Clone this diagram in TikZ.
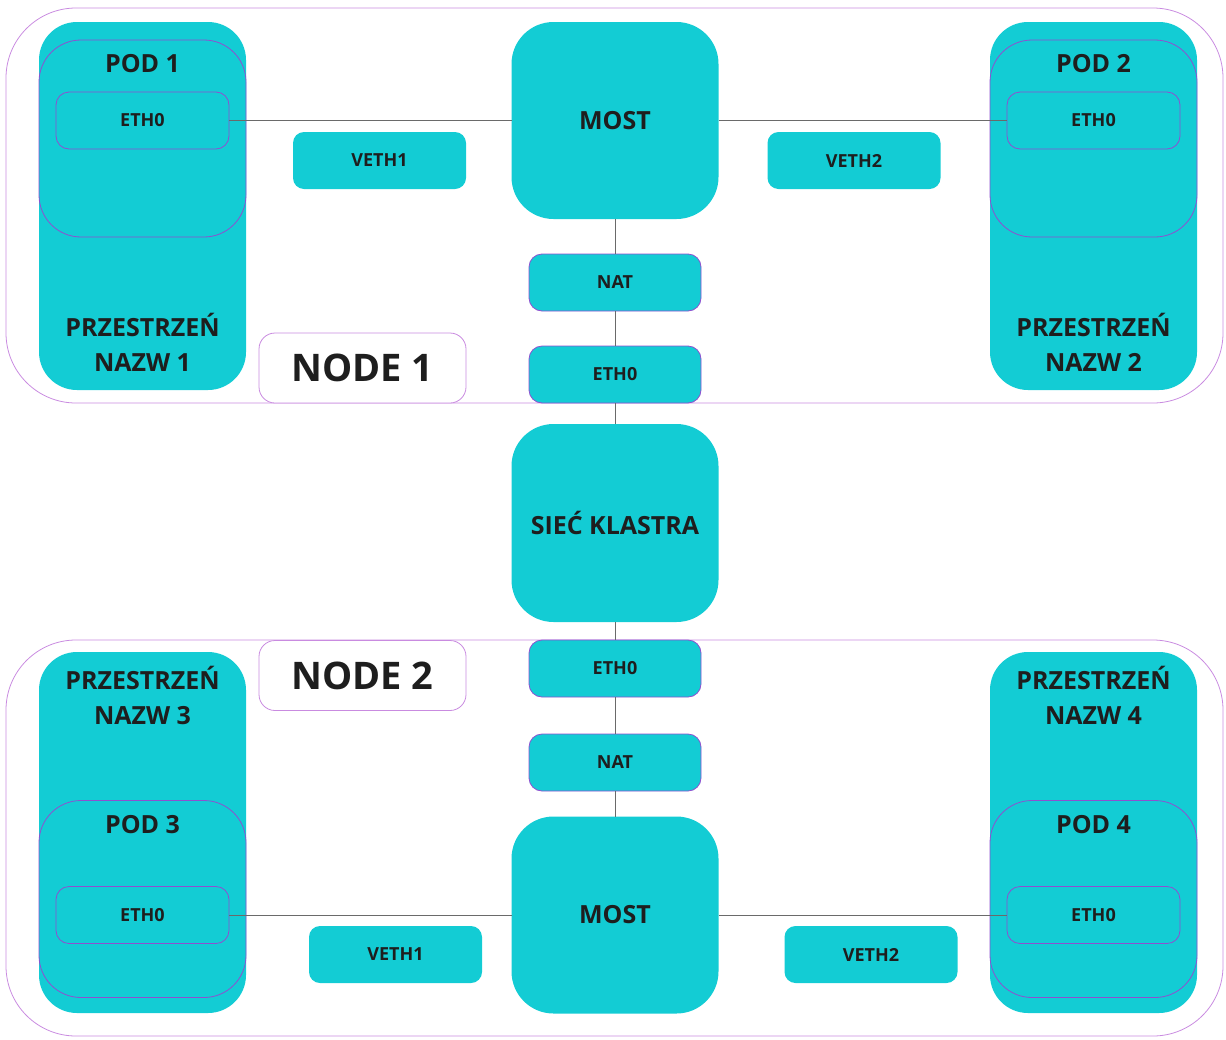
\documentclass[tikz,border=0pt]{standalone}
\usepackage{fontspec}
\setmainfont{Open Sans}
\usepackage{tikz}
\usetikzlibrary{calc}
\definecolor{turkus}{HTML}{13CCD4}
\definecolor{fiolet}{HTML}{8F4FD0}
\definecolor{jasnyfiolet}{HTML}{C98BE0}
\definecolor{tekst}{HTML}{1E1E1E}
\definecolor{linia}{HTML}{6A6A6A}

\begin{document}
\begin{tikzpicture}[x=1pt,y=-1pt,
	box/.style={fill=turkus, inner sep=0pt, outer sep=0pt, text=tekst},
	ramka/.style={draw=fiolet, line width=0.8pt},
	duzy/.style={box, minimum width=207pt, minimum height=197pt, rounded corners=42pt, font=\bfseries\fontsize{25}{30}\selectfont},
	maly/.style={box, minimum width=173pt, minimum height=57pt, rounded corners=13pt, font=\bfseries\fontsize{18}{22}\selectfont},
	przestrzen/.style={box, minimum width=207pt, rounded corners=38pt},
	pod/.style={box, ramka, minimum width=207pt, minimum height=197pt, rounded corners=42pt},
	napis/.style={inner sep=0pt, text=tekst, align=center, font=\bfseries\fontsize{25}{35}\selectfont},
	etykieta/.style={fill=white, draw=jasnyfiolet, line width=0.8pt, minimum width=207pt, minimum height=70pt, rounded corners=16pt, text=tekst, font=\bfseries\fontsize{38}{44}\selectfont},
	polaczenie/.style={draw=linia, line width=0.8pt}
	]
	
	\useasboundingbox (0,0) rectangle (1226,1039);
	
	% node 1
	\draw[jasnyfiolet, line width=0.8pt, rounded corners=70pt] (6,8) rectangle (1223,403);
	
	\node[przestrzen, minimum height=368pt] (NS1) at (142.5,206) {};
	\node[napis] (T1) at (142.5,342.5) {PRZESTRZEŃ\\NAZW 1};
	\node[pod] (P1) at (142.5,138.5) {};
	\node[napis] at (142.5,64) {POD 1};
	\node[maly, ramka] (E1) at (142.5,120.5) {ETH0};
	
	\node[przestrzen, minimum height=368pt] (NS2) at (1093.5,206) {};
	\node[napis] (T2) at (1093.5,342.5) {PRZESTRZEŃ\\NAZW 2};
	\node[pod] (P2) at (1093.5,138.5) {};
	\node[napis] at (1093.5,64) {POD 2};
	\node[maly, ramka] (E2) at (1093.5,120.5) {ETH0};
	
	\node[maly, rounded corners=11pt] (V1) at (379.5,160.5) {VETH1};
	\node[maly, rounded corners=11pt] (V2) at (854,160.5) {VETH2};
	
	\node[duzy] (M1) at (615,120.5) {MOST};
	\node[maly, ramka, minimum width=172pt] (NAT1) at (615,282.5) {NAT};
	\node[maly, ramka, minimum width=172pt] (ETH1) at (615,374.5) {ETH0};
	\node[etykieta] (L1) at (362.5,368) {NODE 1};
	
	% siec
	\node[duzy, minimum height=198pt] (KL) at (615,523) {SIEĆ KLASTRA};
	
	% node 2
	\draw[jasnyfiolet, line width=0.8pt, rounded corners=70pt] (6,640) rectangle (1223,1036);
	
	\node[przestrzen, minimum height=361pt] (NS3) at (142.5,832.5) {};
	\node[napis] (T3) at (142.5,695.5) {PRZESTRZEŃ\\NAZW 3};
	\node[pod] (P3) at (142.5,899) {};
	\node[napis] at (142.5,825) {POD 3};
	\node[maly, ramka] (E3) at (142.5,915) {ETH0};
	
	\node[przestrzen, minimum height=361pt] (NS4) at (1093.5,832.5) {};
	\node[napis] (T4) at (1093.5,695.5) {PRZESTRZEŃ\\NAZW 4};
	\node[pod] (P4) at (1093.5,899) {};
	\node[napis] at (1093.5,825) {POD 4};
	\node[maly, ramka] (E4) at (1093.5,915) {ETH0};
	
	\node[maly, rounded corners=11pt] (V3) at (395.5,954.5) {VETH1};
	\node[maly, rounded corners=11pt] (V4) at (871,954.5) {VETH2};
	
	\node[maly, ramka, minimum width=172pt] (ETH2) at (615,668.5) {ETH0};
	\node[maly, ramka, minimum width=172pt] (NAT2) at (615,762.5) {NAT};
	\node[duzy] (M2) at (615,915) {MOST};
	\node[etykieta] (L2) at (362.5,675.5) {NODE 2};
	
	% polaczenia
	\draw[polaczenie] (E1) -- (M1) -- (E2);
	\draw[polaczenie] (E3) -- (M2) -- (E4);
	\draw[polaczenie] (M1) -- (NAT1) -- (ETH1) -- (KL) -- (ETH2) -- (NAT2) -- (M2);
	
\end{tikzpicture}
\end{document}
